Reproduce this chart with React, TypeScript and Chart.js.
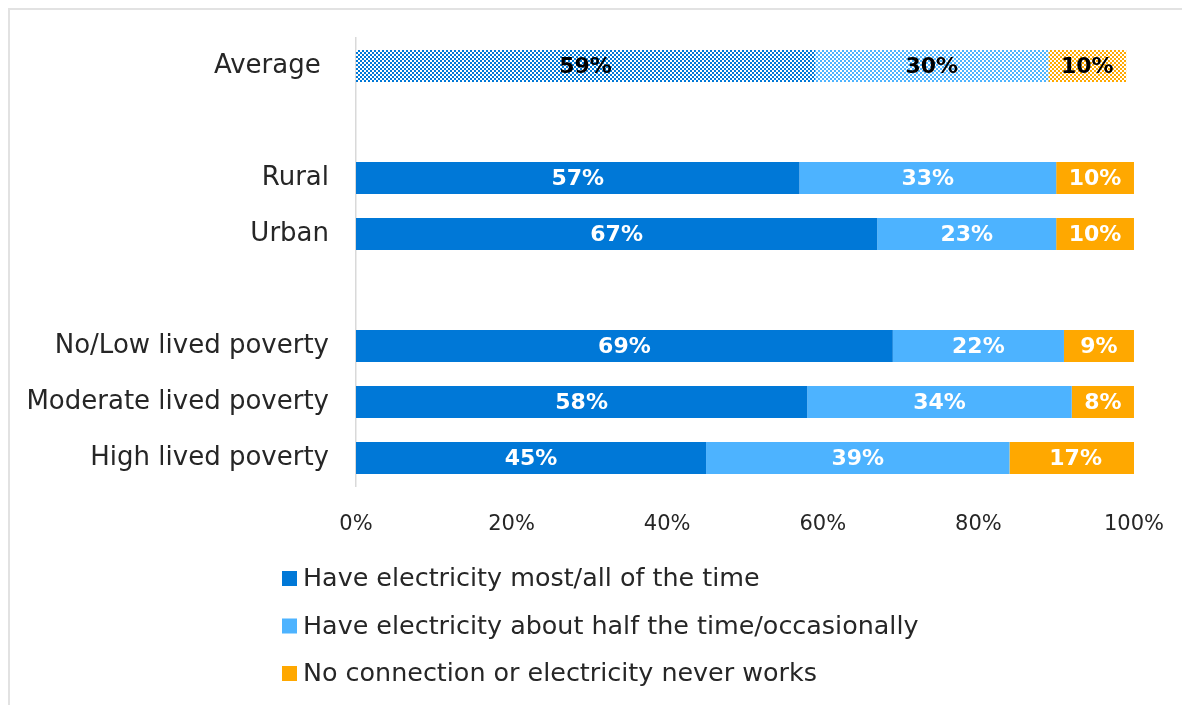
import React, { useEffect, useRef } from "react";
import { Chart, registerables } from "chart.js";

Chart.register(...registerables);

const categories = [
  "Average ",
  "",
  "Rural",
  "Urban",
  "",
  "No/Low lived poverty",
  "Moderate lived poverty",
  "High lived poverty",
];
const mostAll: (number | null)[] = [59, null, 57, 67, null, 69, 58, 45];
const halfOcc: (number | null)[] = [30, null, 33, 23, null, 22, 34, 39];
const noConn: (number | null)[] = [10, null, 10, 10, null, 9, 8, 17];
const seriesNames = [
  "Have electricity most/all of the time",
  "Have electricity about half the time/occasionally",
  "No connection or electricity never works",
];
const seriesColors = ["#0078d7", "#4db3ff", "#ffa800"];

const FONT = "'DejaVu Sans', sans-serif";
const TEXT = "#262626";

function makePattern(color: string): CanvasPattern | string {
  const c = document.createElement("canvas");
  c.width = 4;
  c.height = 4;
  const g = c.getContext("2d");
  if (!g) return color;
  g.fillStyle = "#ffffff";
  g.fillRect(0, 0, 4, 4);
  g.fillStyle = color;
  g.fillRect(0, 0, 2, 2);
  g.fillRect(2, 2, 2, 2);
  const p = g.createPattern(c, "repeat");
  return p || color;
}

const dataLabels = {
  id: "dataLabels",
  afterDatasetsDraw(chart: any) {
    const ctx = chart.ctx;
    ctx.save();
    ctx.font = `bold 22px ${FONT}`;
    ctx.textAlign = "center";
    ctx.textBaseline = "middle";
    chart.data.datasets.forEach((ds: any, i: number) => {
      const meta = chart.getDatasetMeta(i);
      meta.data.forEach((el: any, j: number) => {
        const v = ds.data[j];
        if (v == null) return;
        const { x, base, y } = el.getProps(["x", "base", "y"], true);
        ctx.fillStyle = j === 0 ? "#000000" : "#ffffff";
        ctx.fillText(v + "%", (x + base) / 2, y + 1);
      });
    });
    ctx.restore();
  },
};

const customLegend = {
  id: "customLegend",
  afterDraw(chart: any) {
    const ctx = chart.ctx;
    ctx.save();
    ctx.font = `25.4px ${FONT}`;
    ctx.textAlign = "left";
    ctx.textBaseline = "middle";
    const startY = 568.5;
    const step = 47.5;
    chart.data.datasets.forEach((ds: any, i: number) => {
      const cy = startY + i * step;
      ctx.fillStyle = seriesColors[i];
      ctx.fillRect(272, cy - 7.5, 15, 15);
      ctx.fillStyle = TEXT;
      ctx.fillText(ds.label, 293, cy + 1);
    });
    ctx.restore();
  },
};

export default function App() {
  const ref = useRef<HTMLCanvasElement | null>(null);

  useEffect(() => {
    document.body.style.overflow = "hidden";
    if (!ref.current) return;
    const series = [mostAll, halfOcc, noConn];
    const patterns = seriesColors.map((c) => makePattern(c));
    const chart = new Chart(ref.current, {
      type: "bar",
      data: {
        labels: categories,
        datasets: series.map((d, i) => ({
          label: seriesNames[i],
          data: d,
          backgroundColor: (c: any) => (c.dataIndex === 0 ? patterns[i] : seriesColors[i]),
          borderWidth: 0,
          barPercentage: 0.57,
          categoryPercentage: 1,
        })),
      },
      options: {
        indexAxis: "y",
        animation: false,
        responsive: false,
        devicePixelRatio: 1,
        layout: { padding: { top: 28, right: 54, bottom: 169, left: 0 } },
        plugins: {
          legend: { display: false },
          tooltip: { enabled: false },
          title: { display: false },
        },
        scales: {
          x: {
            stacked: true,
            min: 0,
            max: 100,
            ticks: {
              stepSize: 20,
              padding: 26,
              color: TEXT,
              font: { family: FONT, size: 21 },
              callback: (v: any) => v + "%",
            },
            grid: { display: false, drawTicks: false },
            border: { display: false },
            afterFit: (s: any) => {
              s.height = 50;
            },
          },
          y: {
            stacked: true,
            ticks: {
              padding: 27,
              color: TEXT,
              font: { family: FONT, size: 26 },
            },
            grid: { display: false, drawTicks: false },
            border: { display: true, color: "#d9d9d9", width: 1.5 },
            afterFit: (s: any) => {
              s.width = 346;
              s.paddingTop = 0;
              s.paddingBottom = 0;
            },
          },
        },
      },
      plugins: [dataLabels, customLegend],
    } as any);
    return () => chart.destroy();
  }, []);

  return (
    <div
      style={{
        width: 1180,
        height: 695,
        borderTop: "2px solid #e2e2e2",
        borderLeft: "2px solid #e2e2e2",
      }}
    >
      <canvas ref={ref} width={1180} height={695} style={{ display: "block" }} />
    </div>
  );
}
